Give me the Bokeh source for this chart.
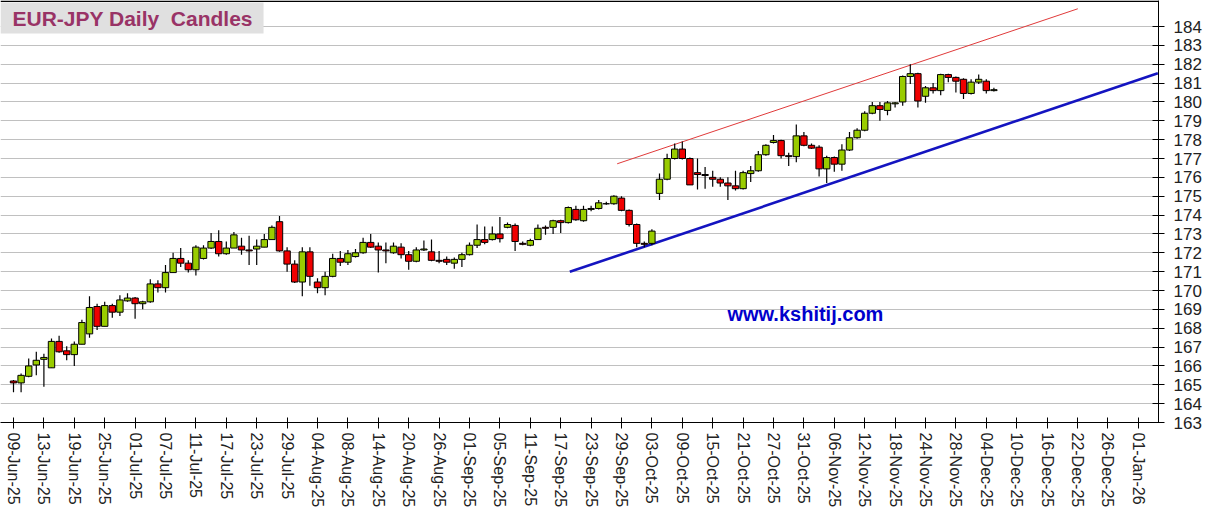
from bokeh.plotting import figure
from bokeh.models import Range1d, FixedTicker, Span, BoxAnnotation, Label, ColumnDataSource
from bokeh.embed import file_html
from bokeh.resources import INLINE

# ---------------- data ----------------
opens = [165.2, 165.1, 165.45, 166.05, 166.35, 165.9, 167.3, 166.8, 166.6, 167.15,
         167.7, 169.15, 168.1, 169.2, 168.85, 169.45, 169.6, 169.3, 169.4, 170.35,
         170.15, 170.95, 171.7, 171.45, 171.1, 171.7, 172.25, 172.6, 171.95, 172.25,
         172.35, 172.15, 172.2, 172.3, 172.7, 173.65, 172.1, 171.4, 170.45, 172.05,
         170.45, 170.15, 170.75, 171.7, 171.5, 171.8, 172.0, 172.55, 172.35, 172.15,
         172.0, 172.3, 171.9, 171.55, 172.15, 172.05, 171.6, 171.65, 171.45, 171.65,
         171.9, 172.4, 172.7, 172.7, 173.0, 173.35, 173.45, 172.5, 172.4, 172.7,
         173.35, 173.35, 173.7, 173.6, 174.3, 173.7, 174.3, 174.35, 174.6, 174.6,
         174.9, 174.25, 173.5, 172.5, 172.5, 175.15, 175.9, 177.0, 177.5, 177.0,
         176.25, 176.15, 176.0, 175.9, 175.7, 175.55, 175.4, 176.2, 176.35, 177.2,
         177.85, 177.95, 177.15, 177.1, 178.2, 177.7, 177.6, 176.45, 177.05, 176.7,
         177.45, 178.1, 178.5, 179.4, 179.8, 179.55, 179.9, 180.0, 181.35, 181.5,
         180.3, 180.75, 180.6, 181.45, 181.3, 181.2, 180.45, 181.05, 181.1, 180.6]
highs = [165.25, 165.6, 166.4, 166.75, 166.65, 167.45, 167.6, 167.05, 167.3, 168.45,
         169.7, 169.3, 169.4, 169.3, 169.75, 169.85, 169.65, 169.45, 170.6, 170.55,
         171.35, 172.0, 172.25, 171.6, 172.4, 172.4, 173.05, 173.2, 172.6, 173.1,
         172.8, 172.9, 172.7, 173.0, 173.45, 173.95, 172.3, 171.6, 172.3, 172.3,
         170.65, 171.0, 171.95, 172.1, 172.15, 172.2, 172.8, 173.0, 172.55, 172.55,
         172.55, 172.5, 172.1, 172.3, 172.65, 172.7, 172.1, 171.8, 171.75, 172.0,
         172.55, 173.5, 173.4, 173.4, 173.9, 173.6, 173.55, 172.6, 172.75, 173.5,
         173.45, 173.75, 173.75, 174.45, 174.5, 174.5, 174.5, 174.8, 174.7, 175.05,
         175.0, 174.3, 173.55, 172.6, 173.25, 176.2, 177.25, 177.8, 177.9, 177.05,
         177.0, 176.55, 176.35, 176.0, 176.0, 176.35, 176.35, 176.6, 177.4, 177.75,
         178.25, 178.0, 177.3, 178.8, 178.4, 177.8, 177.7, 177.15, 177.1, 177.75,
         178.4, 178.6, 179.5, 180.0, 180.0, 180.05, 180.0, 181.4, 182.0, 181.55,
         180.85, 181.0, 181.5, 181.5, 181.35, 181.25, 181.2, 181.45, 181.2, 180.75]
lows = [164.6, 164.6, 165.4, 165.5, 164.9, 165.9, 166.7, 166.3, 166.0, 167.15,
        167.5, 167.9, 168.1, 168.55, 168.65, 169.4, 168.5, 169.0, 169.35, 169.9,
        169.9, 170.95, 171.25, 170.95, 170.8, 171.65, 172.2, 171.8, 171.9, 172.25,
        171.9, 171.35, 171.35, 172.3, 172.7, 172.05, 171.0, 170.4, 169.7, 170.25,
        169.85, 169.75, 170.7, 171.3, 171.35, 171.75, 171.95, 172.25, 170.95, 171.45,
        171.95, 171.7, 171.1, 171.5, 172.1, 171.55, 171.45, 171.35, 171.15, 171.25,
        171.85, 172.25, 172.45, 172.65, 172.55, 173.3, 172.1, 172.4, 172.35, 172.7,
        172.95, 173.0, 173.05, 173.55, 173.7, 173.65, 174.2, 174.3, 174.55, 174.55,
        174.2, 173.4, 172.3, 172.3, 172.4, 174.8, 175.85, 176.95, 176.95, 175.6,
        175.35, 175.4, 175.5, 175.5, 174.8, 175.3, 175.35, 175.75, 176.3, 177.15,
        177.8, 177.0, 176.6, 176.8, 177.65, 177.5, 176.05, 175.7, 176.3, 176.35,
        177.4, 178.05, 178.45, 179.35, 179.0, 179.3, 179.7, 179.8, 180.95, 179.7,
        179.95, 180.45, 180.35, 181.05, 180.5, 180.15, 180.4, 180.95, 180.45, 180.55]
closes = [165.1, 165.5, 166.0, 166.3, 166.45, 167.3, 166.75, 166.6, 167.15, 168.3,
          169.1, 168.1, 169.2, 168.85, 169.5, 169.6, 169.3, 169.4, 170.35, 170.15,
          170.95, 171.7, 171.45, 171.1, 172.3, 172.25, 172.6, 171.95, 172.25, 172.95,
          172.15, 172.1, 172.35, 172.7, 173.35, 172.1, 171.4, 170.45, 172.05, 170.75,
          170.15, 170.75, 171.7, 171.5, 171.95, 172.0, 172.55, 172.3, 172.15, 172.1,
          172.35, 171.9, 171.55, 172.15, 172.2, 171.6, 171.55, 171.5, 171.65, 171.9,
          172.4, 172.7, 172.55, 173.0, 172.75, 173.5, 172.6, 172.45, 172.65, 173.3,
          173.3, 173.7, 173.6, 174.4, 173.75, 174.3, 174.35, 174.65, 174.6, 175.0,
          174.25, 173.5, 172.5, 172.45, 173.15, 175.9, 177.0, 177.5, 177.0, 175.6,
          176.15, 176.1, 175.9, 175.7, 175.55, 175.4, 176.25, 176.35, 177.2, 177.7,
          177.95, 177.15, 177.1, 178.2, 177.7, 177.55, 176.45, 177.05, 176.7, 177.45,
          178.1, 178.5, 179.4, 179.8, 179.6, 179.95, 179.95, 181.35, 181.5, 180.05,
          180.75, 180.6, 181.45, 181.3, 181.1, 180.45, 181.05, 181.2, 180.6, 180.65]

tick_labels = ["09-Jun-25", "13-Jun-25", "19-Jun-25", "25-Jun-25", "01-Jul-25", "07-Jul-25",
               "11-Jul-25", "17-Jul-25", "23-Jul-25", "29-Jul-25", "04-Aug-25", "08-Aug-25",
               "14-Aug-25", "20-Aug-25", "26-Aug-25", "01-Sep-25", "05-Sep-25", "11-Sep-25",
               "17-Sep-25", "23-Sep-25", "29-Sep-25", "03-Oct-25", "09-Oct-25", "15-Oct-25",
               "21-Oct-25", "27-Oct-25", "31-Oct-25", "06-Nov-25", "12-Nov-25", "18-Nov-25",
               "24-Nov-25", "28-Nov-25", "04-Dec-25", "10-Dec-25", "16-Dec-25", "22-Dec-25",
               "26-Dec-25", "01-Jan-26"]
y_ticks = list(range(163, 185))

# trend lines (x in trading-day index, y in price)
red_trend_x = [79.43, 140.04]
red_trend_y = [176.72, 184.94]
blue_trend_x = [73.2, 150.57]
blue_trend_y = [170.99, 181.52]

# ---------------- figure ----------------
n = len(opens)
xs = list(range(n))
tops = [max(o, c) for o, c in zip(opens, closes)]
bottoms = [min(o, c) for o, c in zip(opens, closes)]
fills = ["#99CC00" if c >= o else "#F00000" for o, c in zip(opens, closes)]
src = ColumnDataSource(dict(x=xs, high=highs, low=lows, top=tops, bottom=bottoms, fill=fills))

X0, X1 = -1.7105, 150.658
Y0, Y1 = 163.0, 185.379

p = figure(frame_width=1158, frame_height=422, output_backend="svg", toolbar_location=None,
           x_range=Range1d(X0, X1), y_range=Range1d(Y0, Y1),
           y_axis_location="right", min_border_left=0, min_border_top=0,
           min_border_right=0, min_border_bottom=0)
p.background_fill_color = "white"
p.border_fill_color = "white"
p.outline_line_color = None

# grid
p.xgrid.visible = False
p.ygrid.ticker = FixedTicker(ticks=y_ticks)
p.ygrid.grid_line_color = "#c0c0c0"
p.ygrid.grid_line_width = 1

# y axis (right)
ya = p.yaxis[0]
ya.ticker = FixedTicker(ticks=y_ticks)
ya.axis_line_color = "black"
ya.major_tick_line_color = "black"
ya.major_tick_in = 6
ya.major_tick_out = 6
ya.minor_tick_line_color = None
ya.major_label_standoff = 9
ya.major_label_text_font = "Liberation Sans"
ya.major_label_text_font_size = "17px"
ya.major_label_text_color = "#222222"

# x axis (bottom)
tick_pos = list(range(0, 4 * len(tick_labels), 4))
xa = p.xaxis[0]
xa.ticker = FixedTicker(ticks=tick_pos)
xa.major_label_overrides = {t: lab for t, lab in zip(tick_pos, tick_labels)}
xa.major_label_orientation = "vertical"
xa.axis_line_color = "black"
xa.major_tick_line_color = "black"
xa.major_tick_in = 5
xa.major_tick_out = 6
xa.minor_tick_line_color = None
xa.major_label_standoff = 4
xa.major_label_text_font = "Liberation Sans"
xa.major_label_text_font_size = "16px"
xa.major_label_text_color = "#222222"

# top border line
p.add_layout(Span(location=Y1 - 0.04, dimension="width", line_color="black", line_width=1.5))

# trend lines
p.line(red_trend_x, red_trend_y, line_color="#E03A3A", line_width=1)
p.line(blue_trend_x, blue_trend_y, line_color="#1414C0", line_width=2.6)

# candles
p.segment(x0="x", y0="low", x1="x", y1="high", source=src, line_color="black", line_width=1.2)
p.vbar(x="x", width=0.84, top="top", bottom="bottom", source=src,
       fill_color="fill", line_color="black", line_width=1)

# watermark
p.add_layout(Label(x=104.2, y=168.73, text="www.kshitij.com", text_align="center",
                   text_baseline="middle", text_font="Liberation Sans", text_font_style="bold",
                   text_font_size="20px", text_color="#0000CC"))

# title box
p.add_layout(BoxAnnotation(left=X0, right=32.9, top=185.27, bottom=183.63,
                           fill_color="#E0E0E0", fill_alpha=1.0, line_color=None, level="overlay"))
p.add_layout(Label(x=-0.13, y=184.45, text="EUR-JPY Daily\u00a0 Candles", text_align="left",
                   text_baseline="middle", text_font="Liberation Sans", text_font_style="bold",
                   text_font_size="21px", text_color="#993366", level="overlay"))

open("out.html", "w").write(file_html(p, INLINE))
